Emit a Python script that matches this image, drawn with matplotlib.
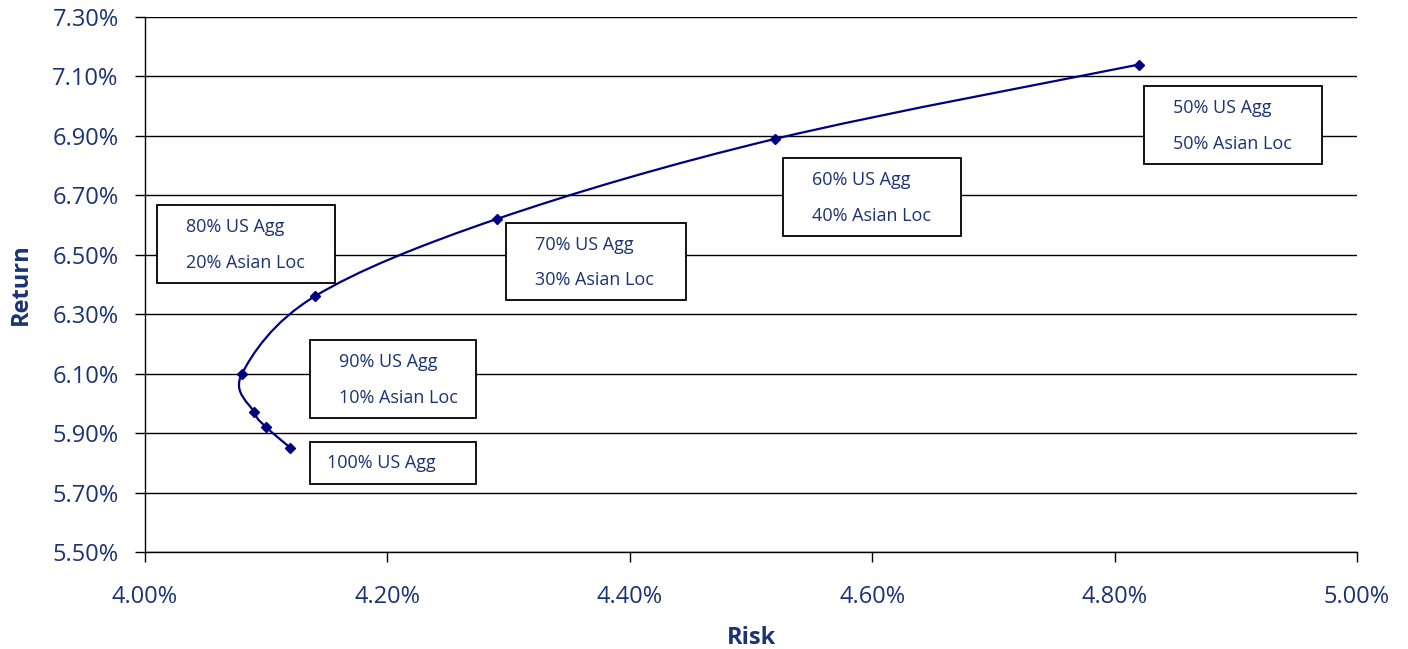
import numpy as np
import matplotlib
matplotlib.use('Agg')
import matplotlib.pyplot as plt
from matplotlib.path import Path
from matplotlib.patches import PathPatch, Rectangle
from matplotlib.ticker import FuncFormatter

# portfolio mixes, risk/return in percent
risk = [4.12, 4.10, 4.09, 4.08, 4.14, 4.29, 4.52, 4.82]
ret = [5.85, 5.92, 5.97, 6.10, 6.36, 6.62, 6.89, 7.14]

mix_labels = ["100% US Agg",
              "90% US Agg\n10% Asian Loc",
              "80% US Agg\n20% Asian Loc",
              "70% US Agg\n30% Asian Loc",
              "60% US Agg\n40% Asian Loc",
              "50% US Agg\n50% Asian Loc"]

x_ticks = [4.00, 4.20, 4.40, 4.60, 4.80, 5.00]
y_ticks = [5.50, 5.70, 5.90, 6.10, 6.30, 6.50, 6.70, 6.90, 7.10, 7.30]

# box corners (left, bottom, right, top) in data units
box_pos = [(4.136, 5.729, 4.273, 5.870),
           (4.136, 5.951, 4.273, 6.213),
           (4.010, 6.405, 4.157, 6.667),
           (4.298, 6.348, 4.446, 6.607),
           (4.526, 6.563, 4.673, 6.826),
           (4.824, 6.805, 4.971, 7.068)]

NAVY = '#000080'
TXT = '#1b3374'

plt.rcParams['font.family'] = ['Open Sans', 'DejaVu Sans']

fig = plt.figure(figsize=(14.08, 6.49), dpi=100)
ax = fig.add_axes([0.103, 0.1495, 0.8608, 0.8243])


def smooth_path(xs, ys):
    # catmull-rom style bezier through the points, like a "smoothed line"
    pts = np.column_stack([xs, ys])
    n = len(pts)
    verts = [pts[0]]
    codes = [Path.MOVETO]
    for i in range(n - 1):
        p0 = pts[max(i - 1, 0)]
        p1 = pts[i]
        p2 = pts[i + 1]
        p3 = pts[min(i + 2, n - 1)]
        c1 = p1 + (p2 - p0) / 6.0
        c2 = p2 - (p3 - p1) / 6.0
        verts += [c1, c2, p2]
        codes += [Path.CURVE4] * 3
    return Path(verts, codes)


ax.add_patch(PathPatch(smooth_path(risk, ret), fill=False, edgecolor=NAVY,
                       lw=1.6, zorder=3))
ax.plot(risk, ret, linestyle='none', marker='D', ms=5.5, color=NAVY, zorder=4)

for lab, (x0, y0, x1, y1) in zip(mix_labels, box_pos):
    ax.add_patch(Rectangle((x0, y0), x1 - x0, y1 - y0, facecolor='white',
                           edgecolor='black', lw=1.3, zorder=5))
    lines = lab.split('\n')
    if len(lines) == 1:
        ax.text(x0 + 0.014, (y0 + y1) / 2, lines[0], fontsize=13, color=TXT,
                va='center', ha='left', zorder=6)
    else:
        h = y1 - y0
        ax.text(x0 + 0.024, y1 - h * 0.28, lines[0], fontsize=13, color=TXT,
                va='center', ha='left', zorder=6)
        ax.text(x0 + 0.024, y1 - h * 0.74, lines[1], fontsize=13, color=TXT,
                va='center', ha='left', zorder=6)

ax.set_xlim(4.0, 5.0)
ax.set_ylim(5.5, 7.3)
ax.set_xticks(x_ticks)
ax.set_yticks(y_ticks)
fmt = FuncFormatter(lambda v, p: '%.2f%%' % v)
ax.xaxis.set_major_formatter(fmt)
ax.yaxis.set_major_formatter(fmt)

ax.grid(axis='y', color='black', lw=1.0, zorder=1)
ax.set_axisbelow(True)
for s in ['top', 'right']:
    ax.spines[s].set_visible(False)
for s in ['left', 'bottom']:
    ax.spines[s].set_color('black')
    ax.spines[s].set_linewidth(1.0)

ax.tick_params(axis='both', direction='out', length=7, width=1.0,
               labelsize=17, labelcolor=TXT)
ax.tick_params(axis='x', pad=17)
ax.tick_params(axis='y', pad=12)

ax.set_xlabel('Risk', fontsize=17, fontweight='bold', color=TXT, labelpad=12)
ax.set_ylabel('Return', fontsize=17, fontweight='bold', color=TXT, labelpad=14)

fig.savefig('out.png', dpi=100)
